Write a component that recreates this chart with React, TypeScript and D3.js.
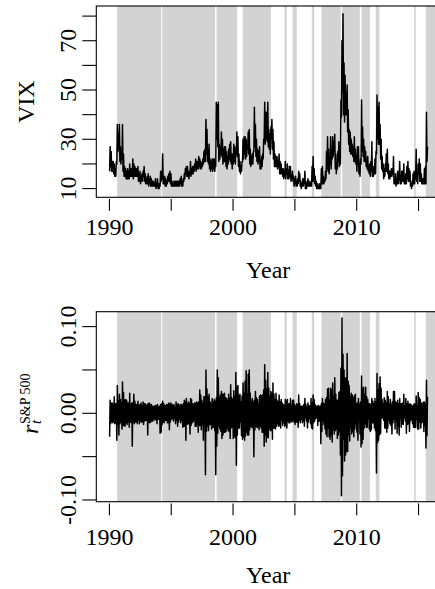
import React from 'react';
import * as d3 from 'd3';

// Monthly data, Jan 1990 .. Sep 2015
const startYear = 1990;

const vixLow = [
  17, 19, 17, 17, 16, 15, 15, 20, 25, 26, 21, 20,
  22, 17, 15, 15, 14, 14, 14, 14, 15, 15, 15, 14,
  15, 15, 15, 15, 13, 13, 12, 13, 13, 15, 13, 12,
  12, 12, 11, 12, 11, 11, 11, 11, 11, 10, 11, 10,
  10, 11, 13, 14, 12, 12, 11, 11, 12, 13, 13, 12,
  11, 11, 11, 11, 11, 11, 11, 11, 11, 12, 11, 11,
  13, 14, 16, 15, 15, 14, 16, 15, 16, 16, 17, 18,
  17, 18, 18, 19, 18, 18, 19, 20, 21, 21, 24, 21,
  20, 18, 17, 18, 17, 18, 17, 19, 30, 27, 21, 22,
  24, 23, 20, 21, 21, 19, 18, 20, 22, 21, 20, 18,
  20, 21, 20, 24, 23, 19, 17, 16, 17, 21, 22, 24,
  22, 23, 26, 24, 20, 19, 20, 20, 25, 27, 23, 21,
  20, 21, 18, 18, 19, 22, 29, 28, 30, 29, 27, 26,
  24, 30, 26, 22, 19, 19, 19, 18, 19, 16, 16, 16,
  15, 14, 15, 14, 16, 14, 14, 15, 13, 14, 13, 11,
  12, 11, 11, 12, 13, 11, 10, 11, 11, 12, 10, 10,
  11, 11, 11, 11, 11, 13, 13, 12, 11, 10, 10, 10,
  10, 10, 12, 12, 12, 13, 14, 18, 17, 16, 20, 18,
  22, 23, 25, 18, 16, 18, 21, 19, 20, 39, 49, 40,
  37, 40, 40, 33, 28, 25, 24, 24, 23, 21, 21, 20,
  17, 20, 16, 15, 20, 25, 23, 21, 21, 19, 18, 17,
  16, 15, 17, 15, 15, 16, 16, 24, 30, 28, 28, 22,
  18, 17, 14, 15, 17, 17, 16, 14, 14, 15, 15, 16,
  12, 12, 11, 12, 12, 15, 12, 12, 13, 13, 12, 12,
  12, 14, 13, 13, 11, 10, 11, 12, 12, 14, 13, 12,
  16, 13, 13, 12, 12, 12, 12, 12, 21,
];

const vixHigh = [
  27, 25, 21, 21, 20, 18, 21, 36, 32, 36, 27, 25,
  36, 24, 19, 18, 17, 18, 17, 20, 18, 18, 22, 20,
  19, 18, 18, 19, 16, 17, 15, 16, 17, 19, 16, 14,
  15, 16, 14, 15, 14, 13, 13, 12, 14, 12, 14, 12,
  12, 17, 17, 24, 15, 15, 14, 13, 15, 16, 17, 16,
  13, 12, 13, 13, 13, 13, 13, 13, 14, 15, 12, 14,
  16, 18, 19, 19, 17, 16, 21, 18, 19, 19, 20, 22,
  21, 21, 23, 22, 21, 20, 22, 25, 26, 38, 34, 26,
  28, 22, 21, 22, 22, 22, 20, 45, 44, 45, 28, 27,
  33, 30, 26, 27, 27, 25, 23, 26, 28, 29, 24, 24,
  28, 27, 26, 33, 31, 24, 21, 19, 21, 30, 31, 31,
  30, 28, 33, 34, 26, 23, 24, 25, 43, 36, 30, 26,
  25, 27, 21, 23, 24, 30, 45, 41, 41, 45, 34, 32,
  35, 38, 34, 29, 24, 23, 23, 21, 24, 21, 20, 18,
  18, 17, 21, 18, 20, 17, 19, 19, 15, 17, 15, 14,
  15, 13, 14, 17, 16, 13, 12, 14, 14, 17, 13, 12,
  14, 13, 12, 13, 19, 23, 18, 15, 13, 12, 11, 12,
  12, 18, 19, 15, 14, 17, 25, 31, 26, 22, 31, 24,
  31, 29, 32, 24, 20, 25, 29, 24, 46, 70, 81, 61,
  56, 49, 52, 42, 34, 33, 30, 28, 27, 31, 26, 23,
  27, 27, 19, 22, 46, 35, 30, 27, 25, 22, 23, 19,
  20, 21, 29, 18, 19, 22, 25, 48, 43, 45, 36, 30,
  23, 20, 18, 20, 24, 26, 20, 17, 17, 18, 18, 23,
  14, 16, 14, 17, 14, 21, 15, 17, 17, 20, 14, 16,
  19, 21, 18, 17, 13, 12, 16, 17, 16, 26, 15, 20,
  22, 20, 16, 14, 14, 18, 19, 41, 27,
];

const retHigh = [
  0.015, 0.012, 0.012, 0.010, 0.019, 0.011, 0.011, 0.032, 0.014, 0.022, 0.016, 0.012,
  0.036, 0.024, 0.015, 0.016, 0.015, 0.012, 0.012, 0.023, 0.010, 0.012, 0.012, 0.022,
  0.014, 0.010, 0.010, 0.014, 0.009, 0.010, 0.012, 0.009, 0.013, 0.011, 0.011, 0.009,
  0.010, 0.011, 0.012, 0.010, 0.010, 0.008, 0.008, 0.008, 0.009, 0.009, 0.010, 0.007,
  0.008, 0.010, 0.011, 0.014, 0.011, 0.009, 0.009, 0.010, 0.010, 0.012, 0.010, 0.012,
  0.010, 0.009, 0.010, 0.007, 0.013, 0.010, 0.011, 0.008, 0.010, 0.010, 0.009, 0.011,
  0.015, 0.013, 0.017, 0.011, 0.013, 0.011, 0.017, 0.016, 0.011, 0.010, 0.012, 0.012,
  0.013, 0.012, 0.013, 0.027, 0.021, 0.015, 0.012, 0.019, 0.019, 0.050, 0.028, 0.019,
  0.022, 0.013, 0.011, 0.017, 0.013, 0.016, 0.014, 0.018, 0.050, 0.041, 0.018, 0.021,
  0.025, 0.022, 0.022, 0.023, 0.018, 0.017, 0.015, 0.022, 0.017, 0.033, 0.018, 0.016,
  0.026, 0.019, 0.047, 0.030, 0.032, 0.020, 0.022, 0.013, 0.020, 0.035, 0.023, 0.037,
  0.049, 0.022, 0.045, 0.050, 0.023, 0.014, 0.017, 0.013, 0.015, 0.025, 0.018, 0.016,
  0.012, 0.020, 0.021, 0.020, 0.021, 0.027, 0.056, 0.038, 0.028, 0.047, 0.029, 0.020,
  0.025, 0.023, 0.035, 0.022, 0.016, 0.023, 0.015, 0.013, 0.021, 0.013, 0.016, 0.012,
  0.010, 0.009, 0.016, 0.014, 0.016, 0.011, 0.011, 0.017, 0.009, 0.015, 0.015, 0.010,
  0.008, 0.011, 0.010, 0.021, 0.011, 0.008, 0.008, 0.008, 0.010, 0.017, 0.010, 0.007,
  0.012, 0.009, 0.008, 0.017, 0.012, 0.021, 0.016, 0.010, 0.008, 0.008, 0.009, 0.008,
  0.008, 0.011, 0.017, 0.012, 0.010, 0.016, 0.018, 0.028, 0.029, 0.015, 0.029, 0.027,
  0.035, 0.020, 0.041, 0.022, 0.015, 0.015, 0.024, 0.025, 0.052, 0.110, 0.068, 0.050,
  0.041, 0.040, 0.069, 0.037, 0.032, 0.020, 0.023, 0.021, 0.018, 0.020, 0.022, 0.011,
  0.012, 0.017, 0.010, 0.013, 0.043, 0.029, 0.030, 0.021, 0.030, 0.019, 0.016, 0.011,
  0.011, 0.010, 0.017, 0.014, 0.011, 0.017, 0.013, 0.046, 0.027, 0.034, 0.042, 0.029,
  0.016, 0.011, 0.018, 0.015, 0.012, 0.025, 0.019, 0.011, 0.016, 0.010, 0.013, 0.025,
  0.025, 0.013, 0.012, 0.015, 0.011, 0.017, 0.011, 0.011, 0.012, 0.022, 0.008, 0.017,
  0.011, 0.014, 0.010, 0.011, 0.010, 0.008, 0.009, 0.011, 0.010, 0.020, 0.007, 0.024,
  0.018, 0.016, 0.012, 0.011, 0.013, 0.013, 0.011, 0.038, 0.019,
];

const retLow = [
  -0.027, -0.012, -0.010, -0.011, -0.010, -0.012, -0.011, -0.031, -0.013, -0.025, -0.012, -0.010,
  -0.018, -0.014, -0.014, -0.015, -0.011, -0.013, -0.010, -0.016, -0.010, -0.011, -0.038, -0.010,
  -0.012, -0.010, -0.010, -0.012, -0.008, -0.012, -0.009, -0.010, -0.010, -0.013, -0.009, -0.008,
  -0.008, -0.025, -0.010, -0.011, -0.010, -0.009, -0.009, -0.006, -0.008, -0.007, -0.012, -0.007,
  -0.007, -0.023, -0.022, -0.013, -0.010, -0.011, -0.008, -0.008, -0.011, -0.011, -0.019, -0.010,
  -0.007, -0.006, -0.009, -0.006, -0.012, -0.008, -0.015, -0.010, -0.007, -0.011, -0.008, -0.016,
  -0.015, -0.015, -0.031, -0.013, -0.012, -0.012, -0.024, -0.014, -0.011, -0.010, -0.008, -0.015,
  -0.015, -0.013, -0.022, -0.014, -0.014, -0.019, -0.013, -0.031, -0.012, -0.071, -0.021, -0.015,
  -0.020, -0.013, -0.013, -0.018, -0.016, -0.016, -0.020, -0.071, -0.038, -0.023, -0.015, -0.018,
  -0.021, -0.029, -0.025, -0.022, -0.022, -0.021, -0.017, -0.020, -0.021, -0.029, -0.017, -0.016,
  -0.029, -0.027, -0.028, -0.060, -0.025, -0.017, -0.017, -0.010, -0.026, -0.030, -0.027, -0.031,
  -0.026, -0.022, -0.025, -0.025, -0.019, -0.015, -0.016, -0.017, -0.050, -0.019, -0.015, -0.016,
  -0.016, -0.019, -0.015, -0.017, -0.022, -0.022, -0.038, -0.025, -0.033, -0.028, -0.028, -0.018,
  -0.020, -0.020, -0.030, -0.017, -0.017, -0.018, -0.015, -0.012, -0.015, -0.014, -0.017, -0.008,
  -0.014, -0.011, -0.015, -0.014, -0.017, -0.009, -0.011, -0.011, -0.009, -0.010, -0.008, -0.010,
  -0.013, -0.010, -0.010, -0.016, -0.008, -0.011, -0.007, -0.011, -0.009, -0.015, -0.005, -0.009,
  -0.017, -0.010, -0.006, -0.012, -0.017, -0.018, -0.011, -0.009, -0.006, -0.005, -0.014, -0.009,
  -0.009, -0.035, -0.021, -0.009, -0.013, -0.018, -0.024, -0.027, -0.017, -0.027, -0.030, -0.025,
  -0.033, -0.019, -0.024, -0.020, -0.018, -0.029, -0.025, -0.021, -0.048, -0.095, -0.072, -0.030,
  -0.055, -0.048, -0.044, -0.044, -0.025, -0.032, -0.017, -0.024, -0.021, -0.027, -0.018, -0.012,
  -0.022, -0.031, -0.006, -0.024, -0.039, -0.035, -0.030, -0.017, -0.012, -0.016, -0.016, -0.006,
  -0.018, -0.021, -0.019, -0.011, -0.011, -0.017, -0.020, -0.069, -0.034, -0.031, -0.025, -0.023,
  -0.006, -0.005, -0.008, -0.017, -0.017, -0.022, -0.017, -0.008, -0.012, -0.014, -0.024, -0.011,
  -0.007, -0.018, -0.009, -0.023, -0.015, -0.025, -0.006, -0.016, -0.012, -0.013, -0.005, -0.009,
  -0.023, -0.013, -0.012, -0.021, -0.009, -0.007, -0.012, -0.016, -0.016, -0.016, -0.007, -0.018,
  -0.018, -0.010, -0.017, -0.011, -0.010, -0.021, -0.014, -0.040, -0.026,
];

// Shaded regime periods (decimal years)
const regimeStart = [1990.63, 1994.27, 1998.67, 2000.77, 2004.16, 2004.81, 2006.37, 2007.15, 2008.82, 2010.39, 2011.54, 2014.64, 2015.59];
const regimeEnd = [1994.19, 1998.55, 2000.33, 2003.06, 2004.35, 2005.15, 2006.56, 2008.71, 2010.25, 2011.08, 2011.84, 2014.77, 2017.0];

const xTicks = [1990, 1995, 2000, 2005, 2010, 2015];
const xTickLabels = [1990, 2000, 2010];
const vixTicks = [10, 20, 30, 40, 50, 60, 70, 80];
const vixTickLabels = [10, 30, 50, 70];
const retTicks = [-0.1, -0.05, 0, 0.05, 0.1];
const retTickLabels = [-0.1, 0, 0.1];

const FONT = 'Liberation Serif, serif';
const FS = 24;

type Pt = [number, number];

function zigzag(lo: number[], hi: number[]): Pt[] {
  const pts: Pt[] = [];
  lo.forEach((l, i) => {
    pts.push([startYear + (i + 0.2) / 12, l]);
    pts.push([startYear + (i + 0.7) / 12, hi[i]]);
  });
  return pts;
}

const x = d3.scaleLinear().domain([1988.94, 2016.74]).range([96.3, 440.05]);

interface PanelProps {
  id: string;
  top: number;
  bottom: number;
  domain: [number, number];
  pts: Pt[];
  ticks: number[];
  tickLabels: number[];
  fmt: (v: number) => string;
  labelY: number;
  yearY: number;
}

function Panel({ id, top, bottom, domain, pts, ticks, tickLabels, fmt, labelY, yearY }: PanelProps) {
  const y = d3.scaleLinear().domain(domain).range([bottom, top]);
  const [x0, x1] = x.range();
  const line = d3.line<Pt>().x((d) => x(d[0])).y((d) => y(d[1]));
  return (
    <g>
      <defs>
        <clipPath id={id}>
          <rect x={x0} y={top} width={x1 - x0} height={bottom - top} />
        </clipPath>
      </defs>
      <g clipPath={`url(#${id})`}>
        {regimeStart.map((s, i) => (
          <rect key={i} x={x(s)} y={top} width={x(regimeEnd[i]) - x(s)} height={bottom - top} fill="#d3d3d3" />
        ))}
        <path d={line(pts) || ''} fill="none" stroke="#000" strokeWidth={1.5} strokeLinejoin="round" />
      </g>
      <rect x={x0} y={top} width={x1 - x0} height={bottom - top} fill="none" stroke="#000" strokeWidth={1.1} />
      {xTicks.map((t) => (
        <line key={t} x1={x(t)} x2={x(t)} y1={bottom + 1.7} y2={bottom + 13.5} stroke="#000" strokeWidth={1.1} />
      ))}
      {xTickLabels.map((t) => (
        <text key={t} x={x(t)} y={labelY} textAnchor="middle">{t}</text>
      ))}
      {ticks.map((t) => (
        <line key={t} x1={x0 - 14} x2={x0} y1={y(t)} y2={y(t)} stroke="#000" strokeWidth={1.1} />
      ))}
      {tickLabels.map((t) => (
        <text key={t} transform={`translate(76,${y(t)}) rotate(-90)`} textAnchor="middle">{fmt(t)}</text>
      ))}
      <text x={(x0 + x1) / 2} y={yearY} textAnchor="middle">Year</text>
    </g>
  );
}

export default function App() {
  const vixPts = zigzag(vixLow, vixHigh);
  const retPts = zigzag(retLow, retHigh);
  return (
    <svg width={435} height={589} fontFamily={FONT} fontSize={FS}
      style={{ position: 'absolute', left: 0, top: 0, background: '#fff' }}>
      <rect x={0} y={0} width={435} height={589} fill="#fff" />
      <Panel id="clipTop" top={6} bottom={197.3} domain={[6.46, 84.1]} pts={vixPts}
        ticks={vixTicks} tickLabels={vixTickLabels} fmt={(v) => String(v)} labelY={234.5} yearY={277.5} />
      <Panel id="clipBot" top={311.7} bottom={501.7} domain={[-0.102, 0.1172]} pts={retPts}
        ticks={retTicks} tickLabels={retTickLabels} fmt={(v) => (v < 0 ? '-' : '') + Math.abs(v).toFixed(2)} labelY={544.5} yearY={583} />
      <text transform="translate(33.5,101.7) rotate(-90)" textAnchor="middle">VIX</text>
      <g transform="translate(38,434) rotate(-90)">
        <text x={0} y={0} fontStyle="italic">r</text>
        <text x={10} y={3} fontSize={15} fontStyle="italic">t</text>
        <text x={10} y={-8} fontSize={14}>S&amp;P 500</text>
      </g>
    </svg>
  );
}
